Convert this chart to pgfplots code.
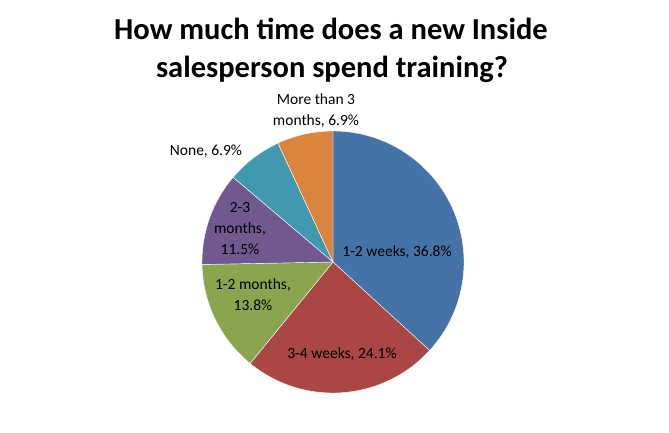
\documentclass[border=0pt]{standalone}
\usepackage{pgfplots}
\pgfplotsset{compat=1.18}
\usepackage{pgfplotstable}
\usepackage{fontspec}
\setmainfont{Carlito}
\definecolor{c0}{HTML}{4572A7}
\definecolor{c1}{HTML}{AA4643}
\definecolor{c2}{HTML}{89A54E}
\definecolor{c3}{HTML}{71588F}
\definecolor{c4}{HTML}{4198AF}
\definecolor{c5}{HTML}{DB843D}
\newcommand{\lblfont}{\fontsize{15.5}{21}\selectfont}
\newcommand{\ttlfont}{\fontsize{30.5}{32}\selectfont\bfseries}
\pgfplotstableread[col sep=comma]{
label,value
1-2 weeks,36.8
3-4 weeks,24.1
1-2 months,13.8
2-3 months,11.5
None,6.9
More than 3 months,6.9
}\piedata
\begin{document}
\begin{tikzpicture}
\xdef\cum{90}
\foreach \i in {0,...,5}{%
  \pgfplotstablegetelem{\i}{value}\of\piedata
  \pgfmathsetmacro{\endang}{\cum-3.6*\pgfplotsretval}%
  \expandafter\xdef\csname angs\i\endcsname{\cum}%
  \expandafter\xdef\csname ange\i\endcsname{\endang}%
  \xdef\cum{\endang}%
}
\begin{axis}[
  width=669pt, height=432pt, scale only axis,
  xmin=0, xmax=669, ymin=0, ymax=432,
  hide axis, clip=false,
]
\path (axis cs:0,0) rectangle (axis cs:669,432);
\pgfplotsinvokeforeach{0,...,5}{
  \fill[c#1, draw=white, line width=0.4pt] (axis cs:333,170) -- +(\csname angs#1\endcsname:131pt)
    arc[start angle=\csname angs#1\endcsname, end angle=\csname ange#1\endcsname, radius=131pt] -- cycle;
}
\node[anchor=base, font=\ttlfont] at (axis cs:331,392) {How much time does a new Inside};
\node[anchor=base, font=\ttlfont] at (axis cs:332,354) {salesperson spend training?};
\node[font=\lblfont, align=center] at (axis cs:316,321) {More than 3\\months, 6.9\%};
\node[font=\lblfont, align=center] at (axis cs:206,281) {None, 6.9\%};
\node[font=\lblfont, align=center] at (axis cs:240,203) {2-3\\months,\\11.5\%};
\node[font=\lblfont, align=center] at (axis cs:397,180) {1-2 weeks, 36.8\%};
\node[font=\lblfont, align=center] at (axis cs:253,137) {1-2 months,\\13.8\%};
\node[font=\lblfont, align=center] at (axis cs:342,78) {3-4 weeks, 24.1\%};
\end{axis}
\end{tikzpicture}
\end{document}
